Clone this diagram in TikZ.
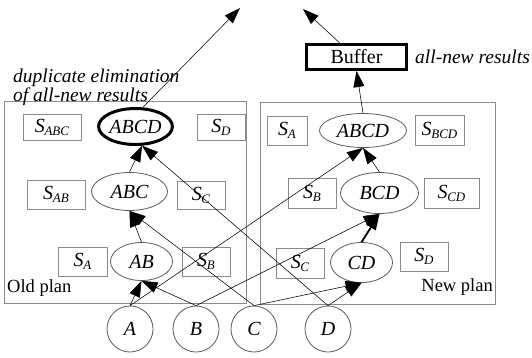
\documentclass[tikz,border=0pt]{standalone}
\usepackage{fontspec}
\setmainfont{Liberation Serif}
\newfontfamily\tms{Liberation Serif}
\usetikzlibrary{arrows.meta,shapes.geometric}

% italic S with a smaller, lowered italic index
\newcommand\Slab[1]{\textit{S}\kern-0.3pt\raisebox{-3pt}{\fontsize{13}{13}\selectfont\textit{#1}}}

\definecolor{boxgray}{HTML}{8A8A8A}
\definecolor{ovalgray}{HTML}{5A5A5A}

\begin{document}
\begin{tikzpicture}[x=1pt,y=-1pt,
  every node/.style={inner sep=0pt, font=\tms\fontsize{20}{20}\selectfont},
  sbox/.style={draw=boxgray, line width=0.8pt, rectangle},
  oval/.style={ellipse, draw=ovalgray, line width=0.8pt, font=\tms\fontsize{20}{20}\selectfont\itshape},
  leaf/.style={circle, draw=ovalgray, line width=0.8pt, minimum size=46pt, font=\tms\fontsize{20}{20}\selectfont\itshape},
  frame/.style={draw=boxgray, line width=0.9pt, rectangle},
  conn/.style={draw=black, line width=0.55pt, -{Triangle[length=16pt,width=11pt]}},
  thickconn/.style={conn, line width=1.8pt}
]
\useasboundingbox (0,0) rectangle (532,357);

% plan frames
\node[frame, minimum width=242pt, minimum height=202pt] (oldplan) at (125,202) {};
\node[frame, minimum width=235pt, minimum height=202pt] (newplan) at (377.5,203) {};
\node[anchor=west, font=\tms\fontsize{18.5}{18.5}\selectfont] (oldlab) at (7,288) {Old plan};
\node[anchor=east, font=\tms\fontsize{18.5}{18.5}\selectfont] (newlab) at (493,287) {New plan};

% old plan
\node[sbox, minimum width=58pt, minimum height=26pt] (oSABC) at (52,127) {\Slab{ABC}};
\node[oval, draw=black, line width=3pt, minimum width=68pt, minimum height=36pt] (oABCD) at (135.5,126.5) {ABCD};
\node[sbox, minimum width=48pt, minimum height=26pt] (oSD) at (221,127) {\Slab{D}};
\node[sbox, minimum width=58pt, minimum height=29pt] (oSAB) at (56,194.5) {\Slab{AB}};
\node[oval, minimum width=76pt, minimum height=38pt] (oABC) at (129.5,191.5) {ABC};
\node[sbox, minimum width=48pt, minimum height=28pt] (oSC) at (201,195) {\Slab{C}};
\node[sbox, minimum width=49pt, minimum height=29pt] (oSA) at (82.5,261.5) {\Slab{A}};
\node[oval, minimum width=62pt, minimum height=38pt] (oAB) at (141.5,261.5) {AB};
\node[sbox, minimum width=48pt, minimum height=29pt] (oSB) at (206,261.5) {\Slab{B}};

% new plan
\node[sbox, minimum width=40pt, minimum height=29pt] (nSA) at (287,130.5) {\Slab{A}};
\node[oval, minimum width=87pt, minimum height=34pt] (nABCD) at (363,130.5) {ABCD};
\node[sbox, minimum width=49pt, minimum height=30pt] (nSBCD) at (439.5,130) {\Slab{BCD}};
\node[sbox, minimum width=48pt, minimum height=30pt] (nSB) at (312,193) {\Slab{B}};
\node[oval, minimum width=78pt, minimum height=41pt] (nBCD) at (379.5,193) {BCD};
\node[sbox, minimum width=55pt, minimum height=30pt] (nSCD) at (451.5,193) {\Slab{CD}};
\node[sbox, minimum width=48pt, minimum height=30pt] (nSC) at (300,263) {\Slab{C}};
\node[oval, minimum width=62pt, minimum height=40pt] (nCD) at (361.5,262.5) {CD};
\node[sbox, minimum width=48pt, minimum height=29pt] (nSD) at (424,256.5) {\Slab{D}};

% buffer and notes
\node[draw=black, line width=3pt, minimum width=100pt, minimum height=25pt] (buf) at (356.5,57) {Buffer};
\node[anchor=west, font=\tms\fontsize{19.5}{19.5}\selectfont\itshape] (allnew) at (415,57) {all-new results};
\node[anchor=north west, align=left, font=\tms\fontsize{19.5}{15}\selectfont\itshape] (dupl) at (13,69)
  {duplicate elimination\\of all-new results};

% base relations
\node[leaf] (A) at (130,329) {A};
\node[leaf] (B) at (196,329) {B};
\node[leaf] (C) at (254,329) {C};
\node[leaf] (D) at (328,329) {D};

% outputs
\coordinate (outL) at (240,8);
\coordinate (outR) at (303,9);

% old plan connectors
\draw[conn] (A.north) -- (oAB.south);
\draw[conn] (B.north) -- (oAB.south);
\draw[conn] (oAB.north) -- (oABC.south);
\draw[conn] (C.north) -- (oABC.south);
\draw[conn] (oABC.north) -- (oABCD.-71);
\draw[conn] (D.north) -- (oABCD.-71);
\draw[conn] (oABCD.69) -- (outL);

% new plan connectors
\draw[conn] (C.north) -- (nCD.south);
\draw[conn] (D.north) -- (nCD.south);
\draw[thickconn] (nCD.north) -- (nBCD.south);
\draw[conn] (B.north) -- (nBCD.south);
\draw[conn] (nBCD.north) -- (nABCD.south);
\draw[conn] (A.north) -- (nABCD.south);
\draw[conn] (nABCD.north) -- (buf.south);
\draw[conn] (buf.140) -- (outR);
\end{tikzpicture}
\end{document}
